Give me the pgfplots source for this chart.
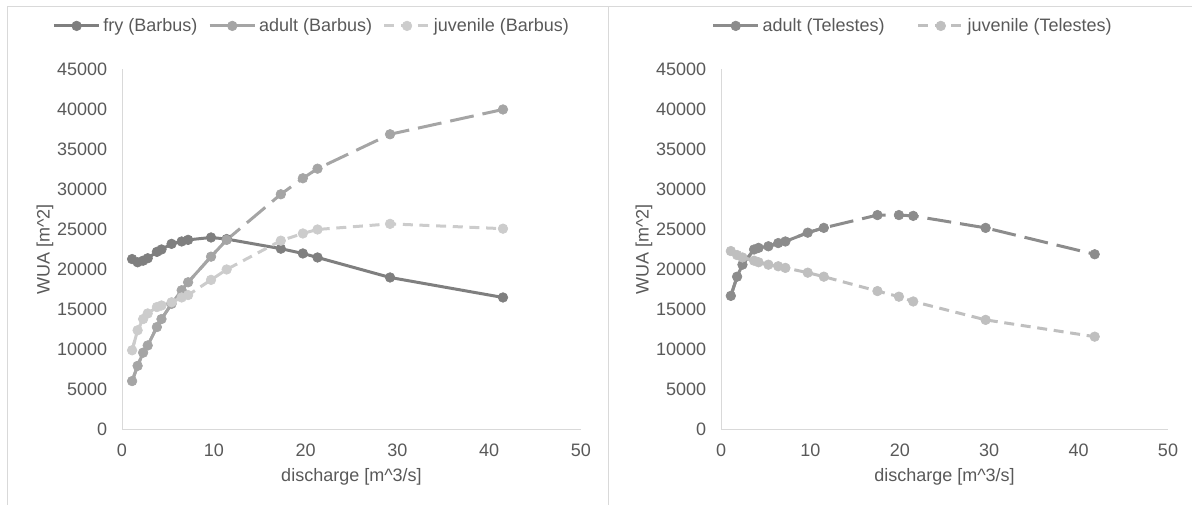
\documentclass[border=0pt]{standalone}
\usepackage{fontspec}
\setmainfont{Liberation Sans}
\usepackage{pgfplots}
\pgfplotsset{compat=1.18}
\usepackage{pgfplotstable}

\definecolor{txt}{HTML}{595959}
\definecolor{frm}{HTML}{D9D9D9}
\definecolor{fry}{HTML}{7F7F7F}
\definecolor{adb}{HTML}{A5A5A5}
\definecolor{juvb}{HTML}{CCCCCC}
\definecolor{adt}{HTML}{8C8C8C}
\definecolor{juvt}{HTML}{BFBFBF}
\newcommand{\fs}{\fontsize{13.5}{16}\selectfont}

% Barbus: discharge, WUA for fry / adult / juvenile
\pgfplotstableread{
q    fry    adult  juv
1.1  21300  6050   9900
1.7  20900  7950   12400
2.3  21100  9600   13800
2.8  21400  10500  14500
3.8  22200  12800  15300
4.3  22500  13800  15500
5.4  23200  15700  15900
6.5  23500  17400  16500
7.2  23700  18400  16800
9.7  24000  21600  18700
11.4 23800  23700  20000
17.3 22600  29400  23600
19.7 22000  31400  24500
21.3 21500  32600  25000
29.2 19000  36900  25700
41.5 16500  40000  25100
}\barbus

% Telestes
\pgfplotstableread{
q    adult  juv
1.1  16700  22300
1.8  19100  21800
2.4  20600  21500
3.7  22500  21100
4.2  22700  20900
5.3  22900  20600
6.4  23300  20400
7.2  23500  20200
9.7  24600  19600
11.5 25200  19100
17.5 26800  17300
19.9 26800  16600
21.5 26700  16000
29.6 25200  13700
41.8 21900  11600
}\telestes

\pgfplotsset{
  wua/.style={
    scale only axis,
    height=270pt,
    xmin=0, xmax=50, ymin=0, ymax=45000,
    xtick={0,10,...,50}, ytick={0,5000,...,45000},
    scaled y ticks=false,
    axis x line*=bottom, axis y line*=left,
    axis line style={draw=frm, line width=0.75pt},
    major tick length=0pt,
    tick label style={font=\fs, text=txt},
    label style={font=\fs, text=txt},
    /pgf/number format/1000 sep={},
    /pgf/number format/assume math mode=true,
    yticklabel style={xshift=-7.6pt},
    xticklabel style={yshift=-7.6pt},
    xlabel={discharge [m\textasciicircum 3/s]},
    ylabel={WUA [m\textasciicircum 2]},
    xlabel style={at={(axis description cs:0.5,-0.1306)}, anchor=center},
    legend style={draw=none, fill=none, font=\fs, text=txt, anchor=center,
      /tikz/every even column/.append style={column sep=6pt}},
    legend image code/.code={\draw[mark repeat=2,mark phase=2]
      plot coordinates {(0pt,0pt) (17pt,0pt) (34pt,0pt)};},
  },
  ser/.style={line width=2.25pt, mark=*, mark size=3.6pt, color=#1,
    mark options={solid, line width=0.5pt, fill=#1, draw=#1}},
  longdash/.style={dash pattern=on 18pt off 6.75pt},
  shortdash/.style={dash pattern=on 7.5pt off 5pt},
}

\begin{document}
\begin{tikzpicture}
\useasboundingbox (0pt,0pt) rectangle (894pt,378pt);
\draw[frm, line width=0.75pt] (5.6pt,-15pt) rectangle (456pt,372.75pt);
\draw[frm, line width=0.75pt] (456pt,-15pt) rectangle (920pt,372.75pt);

\begin{axis}[wua, width=344.25pt, at={(91.5pt,55.9pt)}, anchor=south west,
  ylabel style={at={(axis description cs:-0.1678,0.5)}, anchor=center},
  legend columns=3, legend style={at={(0.414,1.121)}}]
\addplot[ser=fry] table[x=q, y=fry] {\barbus};
\addlegendentry{fry (Barbus)}
\addplot[forget plot, adb, line width=2.25pt, restrict x to domain=0:11.5] table[x=q, y=adult] {\barbus};
\addplot[ser=adb, longdash, legend image post style={solid}] table[x=q, y=adult] {\barbus};
\addlegendentry{adult (Barbus)}
\addplot[forget plot, juvb, line width=2.25pt, restrict x to domain=0:7.3] table[x=q, y=juv] {\barbus};
\addplot[ser=juvb, shortdash] table[x=q, y=juv] {\barbus};
\addlegendentry{juvenile (Barbus)}
\end{axis}

\begin{axis}[wua, width=335.25pt, at={(540.75pt,55.9pt)}, anchor=south west,
  ylabel style={at={(axis description cs:-0.1723,0.5)}, anchor=center},
  legend columns=2, legend style={at={(0.4295,1.121)},
    /tikz/every even column/.append style={column sep=22pt}}]
\addplot[forget plot, adt, line width=2.25pt, restrict x to domain=0:11.6] table[x=q, y=adult] {\telestes};
\addplot[ser=adt, longdash, legend image post style={solid}] table[x=q, y=adult] {\telestes};
\addlegendentry{adult (Telestes)}
\addplot[forget plot, juvt, line width=2.25pt, restrict x to domain=0:7.3] table[x=q, y=juv] {\telestes};
\addplot[ser=juvt, shortdash] table[x=q, y=juv] {\telestes};
\addlegendentry{juvenile (Telestes)}
\end{axis}
\end{tikzpicture}
\end{document}
